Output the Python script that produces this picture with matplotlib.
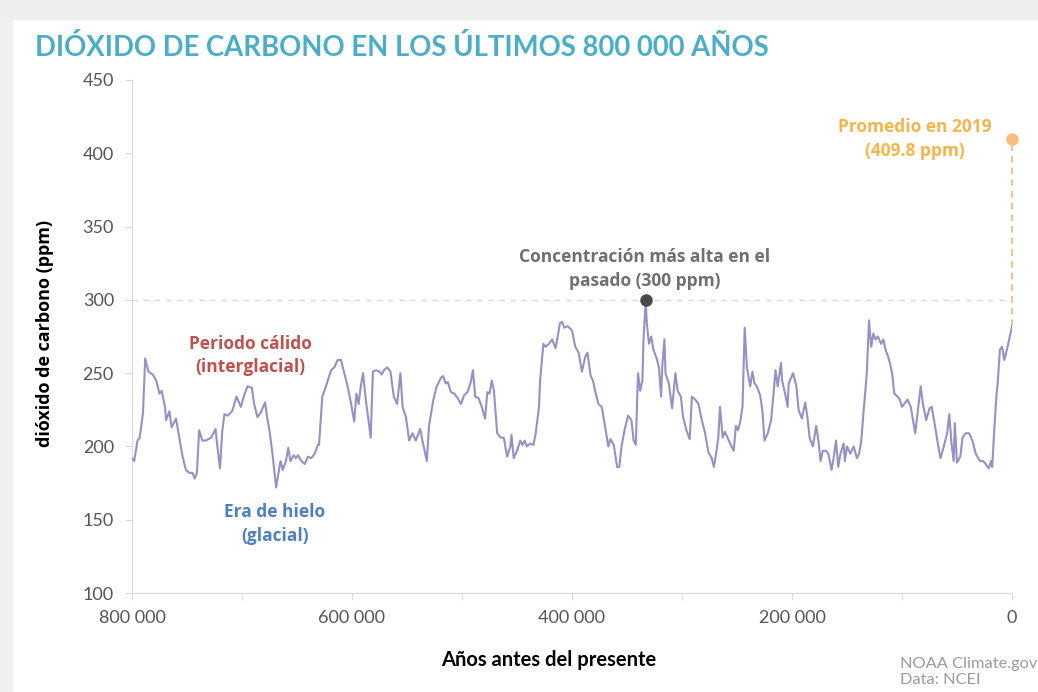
import matplotlib
matplotlib.use("Agg")
import matplotlib.pyplot as plt
from matplotlib.ticker import FuncFormatter, MultipleLocator
from matplotlib.patches import Rectangle

# Datos: miles de años antes del presente y CO2 (ppm)
anos_ka = [800, 798, 795, 793, 790, 788, 785, 781, 778, 775, 773, 770, 769, 766, 764,
           760, 757, 754, 751, 748, 745, 743, 741, 739, 736, 733, 728, 724, 723, 720,
           718, 716, 713, 709, 705, 701, 698, 695, 691, 689, 686, 683, 679, 677, 675,
           672, 669, 667, 665, 663, 660, 658, 656, 653, 651, 649, 646, 643, 640, 637,
           634, 631, 630, 627, 625, 622, 619, 616, 613, 610, 607, 604, 601, 598, 596,
           594, 592, 590, 587, 585, 583, 581, 578, 575, 573, 571, 568, 565, 562, 559,
           556, 554, 551, 548, 545, 542, 538, 536, 532, 530, 528, 526, 523, 519, 517,
           515, 513, 510, 507, 504, 501, 498, 495, 492, 490, 488, 485, 482, 479, 477,
           475, 473, 471, 468, 465, 462, 459, 456, 455, 453, 450, 447, 445, 443, 441,
           438, 435, 433, 430, 429, 426, 424, 421, 418, 415, 413, 411, 409, 407, 404,
           401, 400, 397, 394, 391, 388, 386, 383, 381, 379, 376, 373, 370, 367, 365,
           362, 359, 357, 355, 352, 349, 346, 344, 342, 340, 338, 336, 335, 333, 332,
           330, 328, 326, 323, 321, 319, 318, 316, 315, 312, 309, 306, 304, 301, 299,
           296, 293, 291, 288, 285, 282, 279, 276, 273, 271, 269, 267, 265.5, 263, 261,
           258, 255, 253, 251, 249, 247, 245, 243, 241, 238, 236, 234, 232, 229, 227,
           225, 222, 219, 217, 215, 213, 210, 209, 206, 204, 203, 199, 196, 194, 191,
           188, 186, 184, 181, 178, 176, 174, 172, 169, 167, 164, 162, 160, 158, 156,
           153, 152, 150, 147, 144, 141, 139, 137, 135, 132, 130, 128, 126, 124, 122,
           119, 117, 115, 113, 111, 109, 107, 104, 102, 100, 98, 95, 92, 90, 88,
           86, 83, 81, 78, 75, 73, 70, 67, 65, 62, 59, 57, 55, 53, 52,
           50, 47, 45, 42, 39, 36, 33, 29, 26, 23, 21, 19, 18, 16, 14,
           13, 11, 9, 7, 4, 2, 0]
co2_ppm = [192, 190, 204, 206, 223, 260, 251, 249, 245, 236, 238, 227, 218, 224, 213,
           219, 206, 193, 184, 182, 182, 178, 182, 211, 204, 204, 206, 212, 204, 185,
           210, 222, 221, 224, 234, 227, 235, 241, 240, 229, 220, 223, 230, 219, 211,
           193, 172, 181, 190, 184, 190, 199, 190, 194, 192, 194, 190, 188, 193, 192,
           195, 201, 201, 234, 238, 245, 252, 254, 259, 259, 250, 241, 230, 217, 236,
           229, 241, 250, 229, 218, 206, 251, 252, 251, 249, 252, 254, 251, 234, 229,
           250, 227, 220, 204, 209, 204, 212, 204, 190, 214, 223, 232, 241, 247, 248,
           243, 244, 237, 236, 233, 229, 235, 237, 244, 252, 234, 233, 227, 219, 237,
           236, 245, 238, 209, 206, 206, 193, 200, 208, 192, 197, 204, 201, 204, 200,
           202, 201, 209, 227, 245, 270, 268, 270, 273, 267, 275, 284, 285, 281, 282,
           280, 279, 268, 264, 251, 261, 264, 248, 245, 238, 229, 227, 214, 200, 205,
           201, 186, 186, 200, 212, 221, 218, 204, 201, 250, 238, 245, 273, 300, 284,
           270, 275, 266, 260, 254, 234, 254, 273, 250, 243, 226, 250, 238, 234, 220,
           211, 205, 234, 232, 229, 218, 209, 196, 192, 186, 195, 206, 227, 206, 210,
           205, 200, 197, 214, 211, 217, 227, 281, 254, 241, 251, 243, 241, 235, 225,
           204, 209, 218, 234, 252, 241, 257, 245, 235, 227, 243, 250, 241, 225, 219,
           230, 220, 206, 200, 214, 204, 190, 197, 197, 195, 184, 193, 204, 186, 195,
           202, 190, 200, 195, 200, 192, 195, 204, 223, 250, 286, 268, 277, 273, 275,
           270, 273, 266, 262, 257, 250, 236, 234, 232, 227, 229, 232, 227, 218, 209,
           222, 241, 229, 218, 226, 227, 214, 200, 192, 200, 209, 222, 202, 190, 216,
           189, 193, 206, 209, 209, 204, 195, 190, 190, 187, 185, 190, 186, 213, 236,
           243, 266, 268, 259, 268, 275, 282]

pico_ka, pico_ppm = 333, 300
promedio_2019 = 409.8

anos = [a * 1000 for a in anos_ka]

fig = plt.figure(figsize=(10.38, 6.92), dpi=100)
ax = fig.add_axes([132 / 1038, 1 - 593 / 692, 880 / 1038, 513 / 692])

# marco gris de la captura
fig.patches.append(Rectangle((0, 1 - 19 / 692), 1, 19 / 692, transform=fig.transFigure,
                             color="#eeeeee", zorder=0))
fig.patches.append(Rectangle((0, 0), 12 / 1038, 1 - 19 / 692, transform=fig.transFigure,
                             color="#f0f0f0", zorder=0))

ax.plot(anos, co2_ppm, color="#9391c6", lw=1.5, zorder=3)

# línea de 300 ppm y valor de 2019
ax.hlines(pico_ppm, 800000, 6000, colors="#d9d9d9", linestyles=(0, (4, 4)), lw=1, zorder=1)
ax.vlines(0, co2_ppm[-1], promedio_2019, colors="#f2b977", linestyles=(0, (4, 3)), lw=1.2,
          zorder=2, clip_on=False)
ax.plot([pico_ka * 1000], [pico_ppm], "o", color="#4a4a4a", ms=8, zorder=4)
ax.plot([0], [promedio_2019], "o", color="#f4c07f", ms=8, zorder=4, clip_on=False)

ax.set_xlim(800000, 0)
ax.set_ylim(100, 450)
ax.xaxis.set_major_locator(MultipleLocator(200000))
ax.xaxis.set_minor_locator(MultipleLocator(100000))
ax.yaxis.set_major_locator(MultipleLocator(50))
ax.xaxis.set_major_formatter(FuncFormatter(lambda v, p: f"{int(v):,}".replace(",", " ")))

for s in ["top", "right"]:
    ax.spines[s].set_visible(False)
for s in ["left", "bottom"]:
    ax.spines[s].set_color("#d9d9d9")
ax.tick_params(axis="both", which="both", color="#d9d9d9", length=5, labelcolor="#555555",
               labelsize=13)
ax.tick_params(axis="x", pad=7)
ax.tick_params(axis="y", pad=8)
for t in ax.get_xticklabels() + ax.get_yticklabels():
    t.set_family("Lato")

# textos
fig.text(35 / 1038, 1 - 48 / 692, "DIÓXIDO DE CARBONO EN LOS ÚLTIMOS 800 000 AÑOS",
         family="Lato", weight="bold", size=19.8, color="#4baec9", ha="left", va="center")
fig.text(45 / 1038, 1 - 333 / 692, "dióxido de carbono (ppm)", family="Open Sans",
         weight="bold", size=13, rotation=90, ha="center", va="center")
fig.text(549 / 1038, 1 - 660 / 692, "Años antes del presente", family="Lato",
         weight="bold", size=14.5, ha="center", va="center")
fig.text(900 / 1038, 1 - 672 / 692, "NOAA Climate.gov\nData: NCEI", family="Lato",
         size=11.8, color="#9a9a9a", ha="left", va="center", linespacing=1.1)

opts = dict(family="Open Sans", weight="bold", size=12.5, ha="center", va="center",
            linespacing=1.4)
ax.text(692000, 262, "Periodo cálido\n(interglacial)", color="#c0504d", **opts)
ax.text(670000, 147, "Era de hielo\n(glacial)", color="#4f7fc0", **opts)
ax.text(334000, 321, "Concentración más alta en el\npasado (300 ppm)", color="#6f6f6f", **opts)
ax.text(88000, 409.6, "Promedio en 2019\n(409.8 ppm)", color="#f5b54c", **opts)

fig.savefig("out.png", dpi=100)
